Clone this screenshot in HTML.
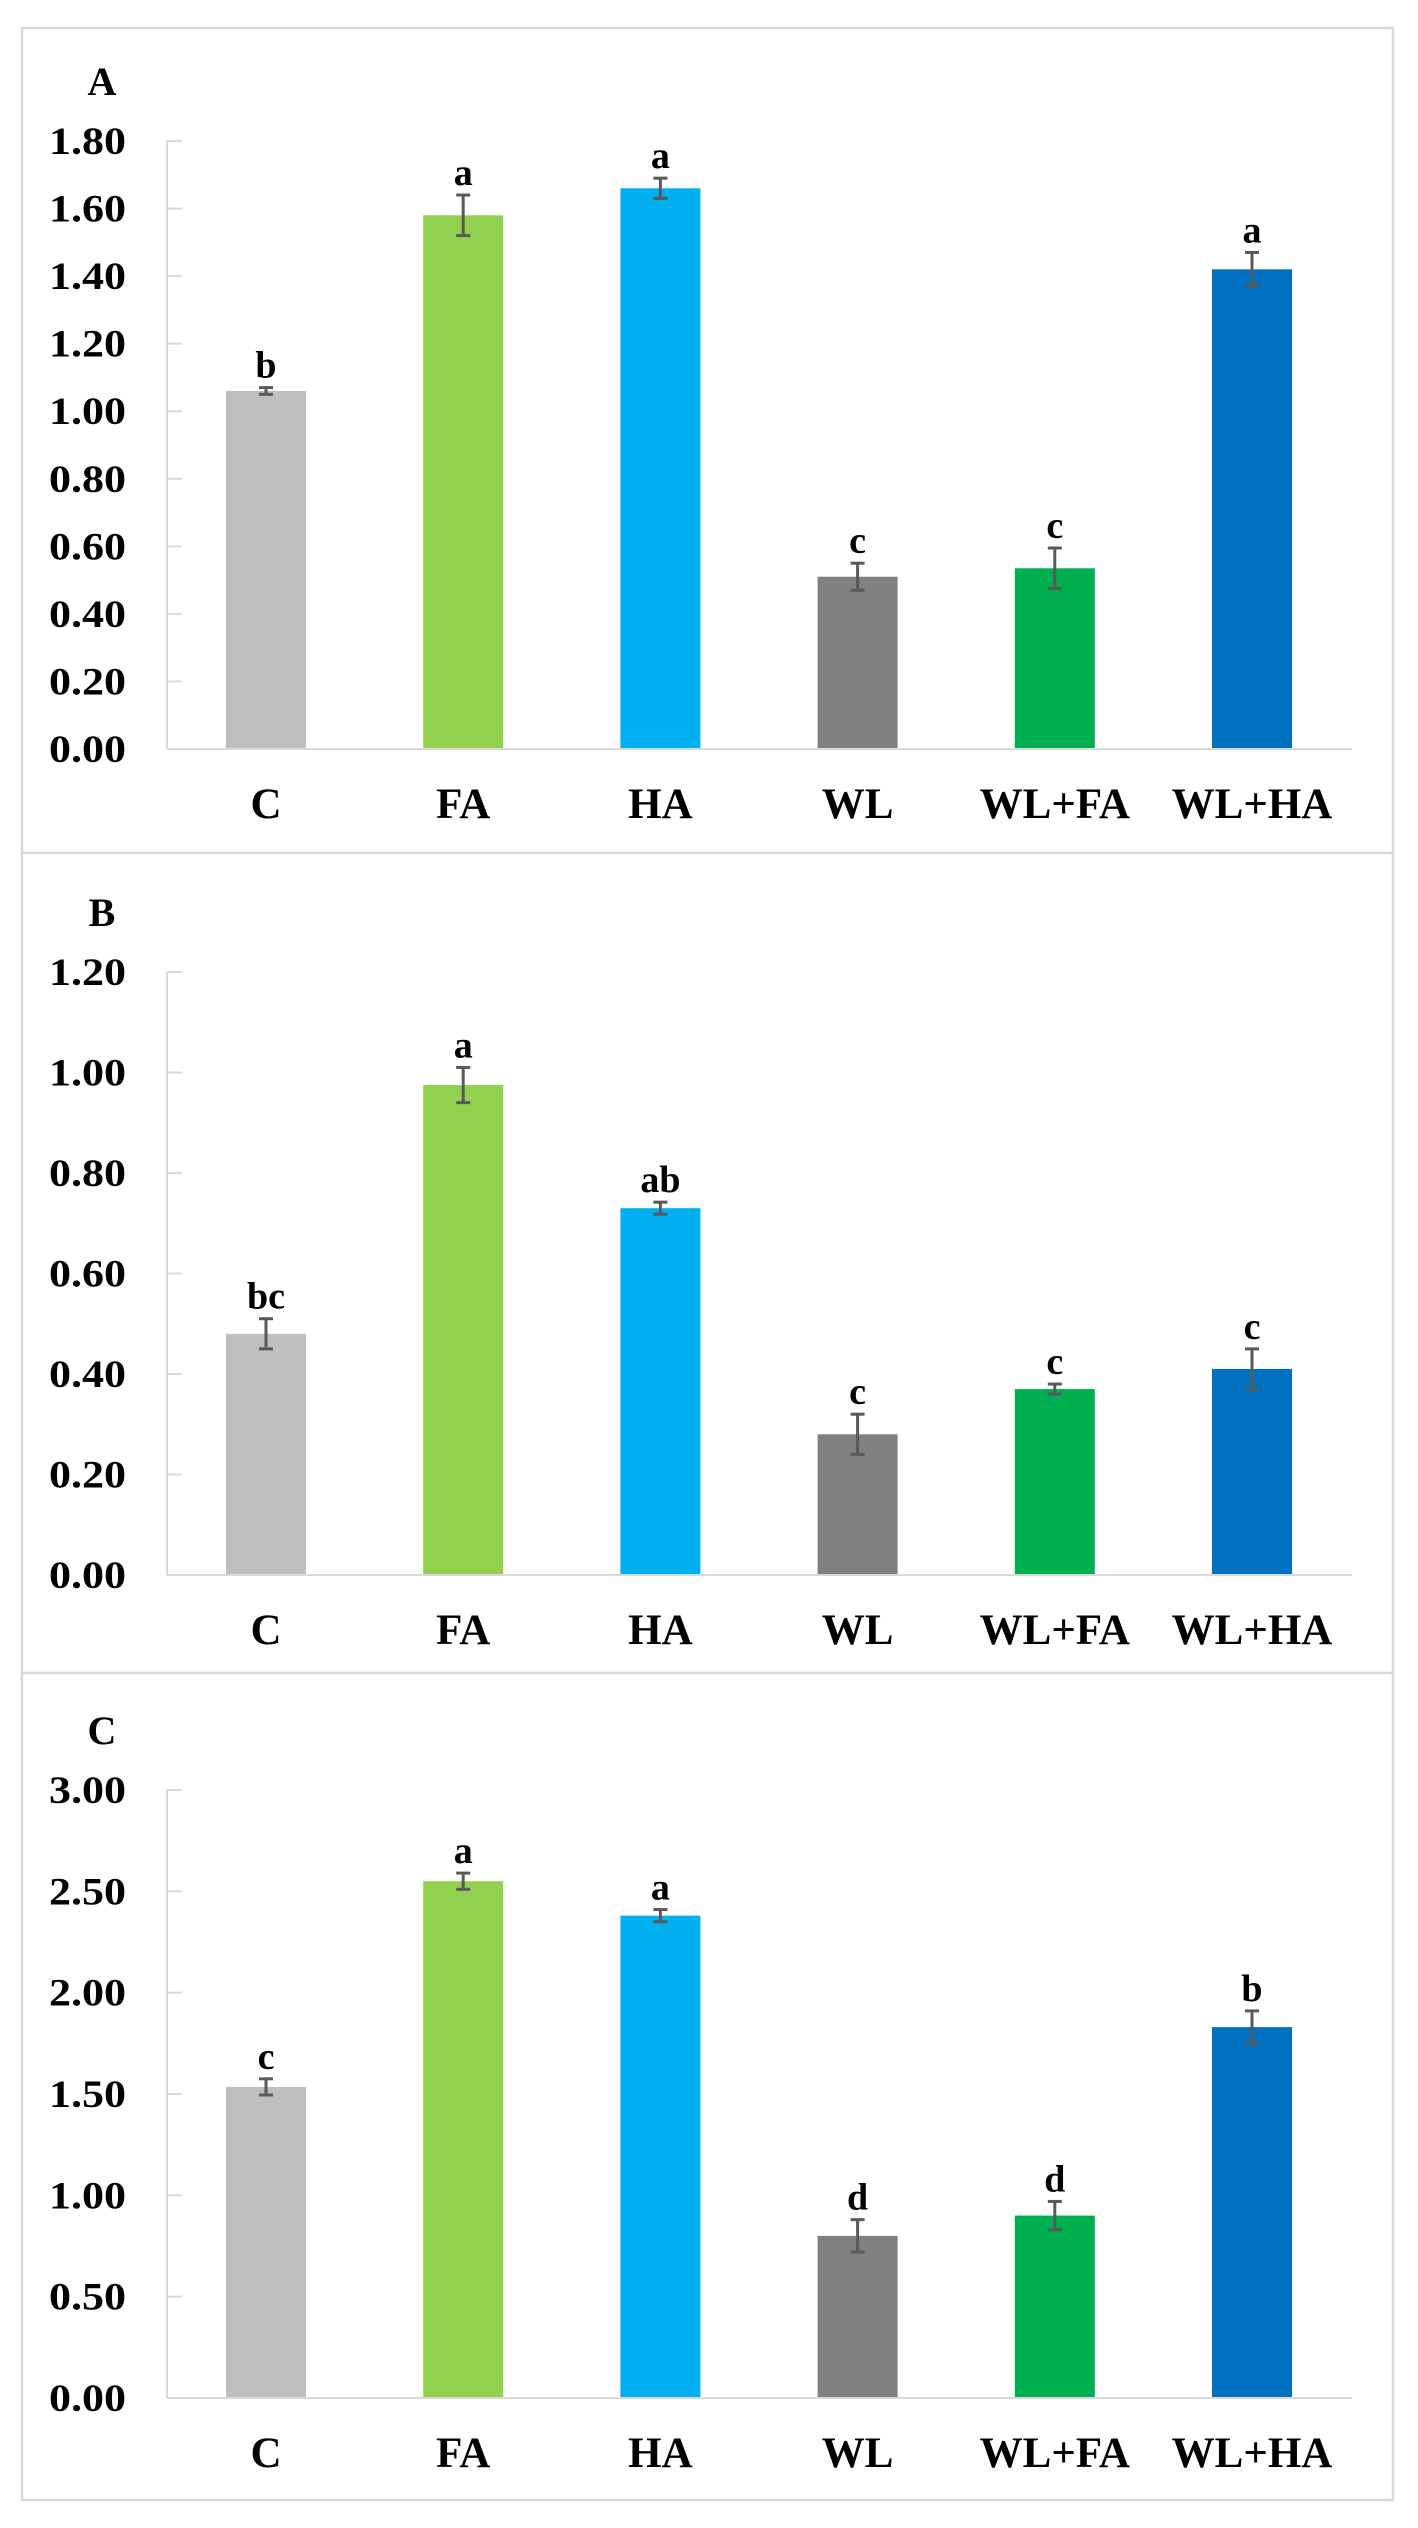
<!DOCTYPE html>
<html><head><meta charset="utf-8"><style>
html,body{margin:0;padding:0;background:#fff}
svg{display:block}
text{font-family:"Liberation Serif",serif;font-weight:bold;fill:#000}
</style></head><body>
<svg id="fig" width="1418" height="2528" viewBox="0 0 1418 2528" xmlns="http://www.w3.org/2000/svg">
<rect x="0" y="0" width="1418" height="2528" fill="#fff"/>
<rect x="22" y="28" width="1371" height="2472" fill="none" stroke="#d9d9d9" stroke-width="2.5"/>
<line x1="22" y1="853" x2="1393" y2="853" stroke="#d9d9d9" stroke-width="2.5"/>
<line x1="22" y1="1673" x2="1393" y2="1673" stroke="#d9d9d9" stroke-width="2.5"/>
<g id="plots"></g>
</svg>
<script>
const categories = ["C","FA","HA","WL","WL+FA","WL+HA"];
const colors = ["#BFBFBF","#92D050","#00B0F0","#808080","#00B050","#0070C0"];
const valuesA = [1.06,1.58,1.66,0.51,0.535,1.42];
const errorsA = [0.01,0.06,0.03,0.04,0.06,0.05];
const lettersA = ["b","a","a","c","c","a"];
const ticksA = [0,0.2,0.4,0.6,0.8,1.0,1.2,1.4,1.6,1.8];
const valuesB = [0.48,0.975,0.73,0.28,0.37,0.41];
const errorsB = [0.03,0.035,0.012,0.04,0.01,0.04];
const lettersB = ["bc","a","ab","c","c","c"];
const ticksB = [0,0.2,0.4,0.6,0.8,1.0,1.2];
const valuesC = [1.535,2.55,2.38,0.80,0.90,1.83];
const errorsC = [0.04,0.04,0.03,0.08,0.07,0.08];
const lettersC = ["c","a","a","d","d","b"];
const ticksC = [0,0.5,1.0,1.5,2.0,2.5,3.0];

const NS="http://www.w3.org/2000/svg";
const root=document.getElementById('plots');
function mk(tag,attrs,parent){const e=document.createElementNS(NS,tag);for(const k in attrs)e.setAttribute(k,attrs[k]);parent.appendChild(e);return e;}

function panel(id,label,values,errors,letters,ticks,yTop,yZero,labelY){
  const g=mk('g',{},root);
  
  
  const x0=167,x1=1352,c0=266,step=197.2,bw=80;
  const maxT=ticks[ticks.length-1];
  const y=v=>yZero-(v/maxT)*(yZero-yTop);
  const xc=i=>c0+i*step;
  const pl=mk('text',{x:102,y:labelY+14,'font-size':40,'text-anchor':'middle'},g);
  pl.textContent=label;
  
  
  const ax=mk('line',{x1:x0,y1:yTop,x2:x0,y2:yZero,stroke:'#d9d9d9','stroke-width':2},g);
  
  
  ticks.forEach(t=>{
    const ty=y(t);
    const tk=mk('line',{x1:x0,y1:ty,x2:x0+15,y2:ty,stroke:'#d9d9d9','stroke-width':2},g);
    
    
    const tl=mk('text',{x:126,y:ty+13,'font-size':39,'text-anchor':'end',textLength:77,lengthAdjust:'spacingAndGlyphs'},g);
    tl.textContent=t.toFixed(2);
    
    
  });
  values.forEach((v,i)=>{
    const cx=xc(i);
    const b=mk('rect',{x:cx-bw/2,y:y(v),width:bw,height:yZero-y(v),fill:colors[i]},g);
    
    
    const et=y(v+errors[i]),eb=y(v-errors[i]);
    const eg=mk('g',{stroke:'#595959','stroke-width':3},g);
    
    
    mk('line',{x1:cx,y1:et,x2:cx,y2:eb},eg);
    mk('line',{x1:cx-7,y1:et,x2:cx+7,y2:et},eg);
    mk('line',{x1:cx-7,y1:eb,x2:cx+7,y2:eb},eg);
    const lt=mk('text',{x:cx,y:et-10,'font-size':38,'text-anchor':'middle'},g);
    lt.textContent=letters[i];
    
    
    const cl=mk('text',{x:cx,y:yZero+69,'font-size':43,'text-anchor':'middle'},g);
    cl.textContent=categories[i];
    
    
  });
  const xa=mk('line',{x1:x0,y1:yZero,x2:x1,y2:yZero,stroke:'#d9d9d9','stroke-width':2},g);
  
  
}
panel('a','A',valuesA,errorsA,lettersA,ticksA,141,749,81);
panel('b','B',valuesB,errorsB,lettersB,ticksB,972,1575,912);
panel('c','C',valuesC,errorsC,lettersC,ticksC,1790,2398,1730);
</script>
</body></html>
